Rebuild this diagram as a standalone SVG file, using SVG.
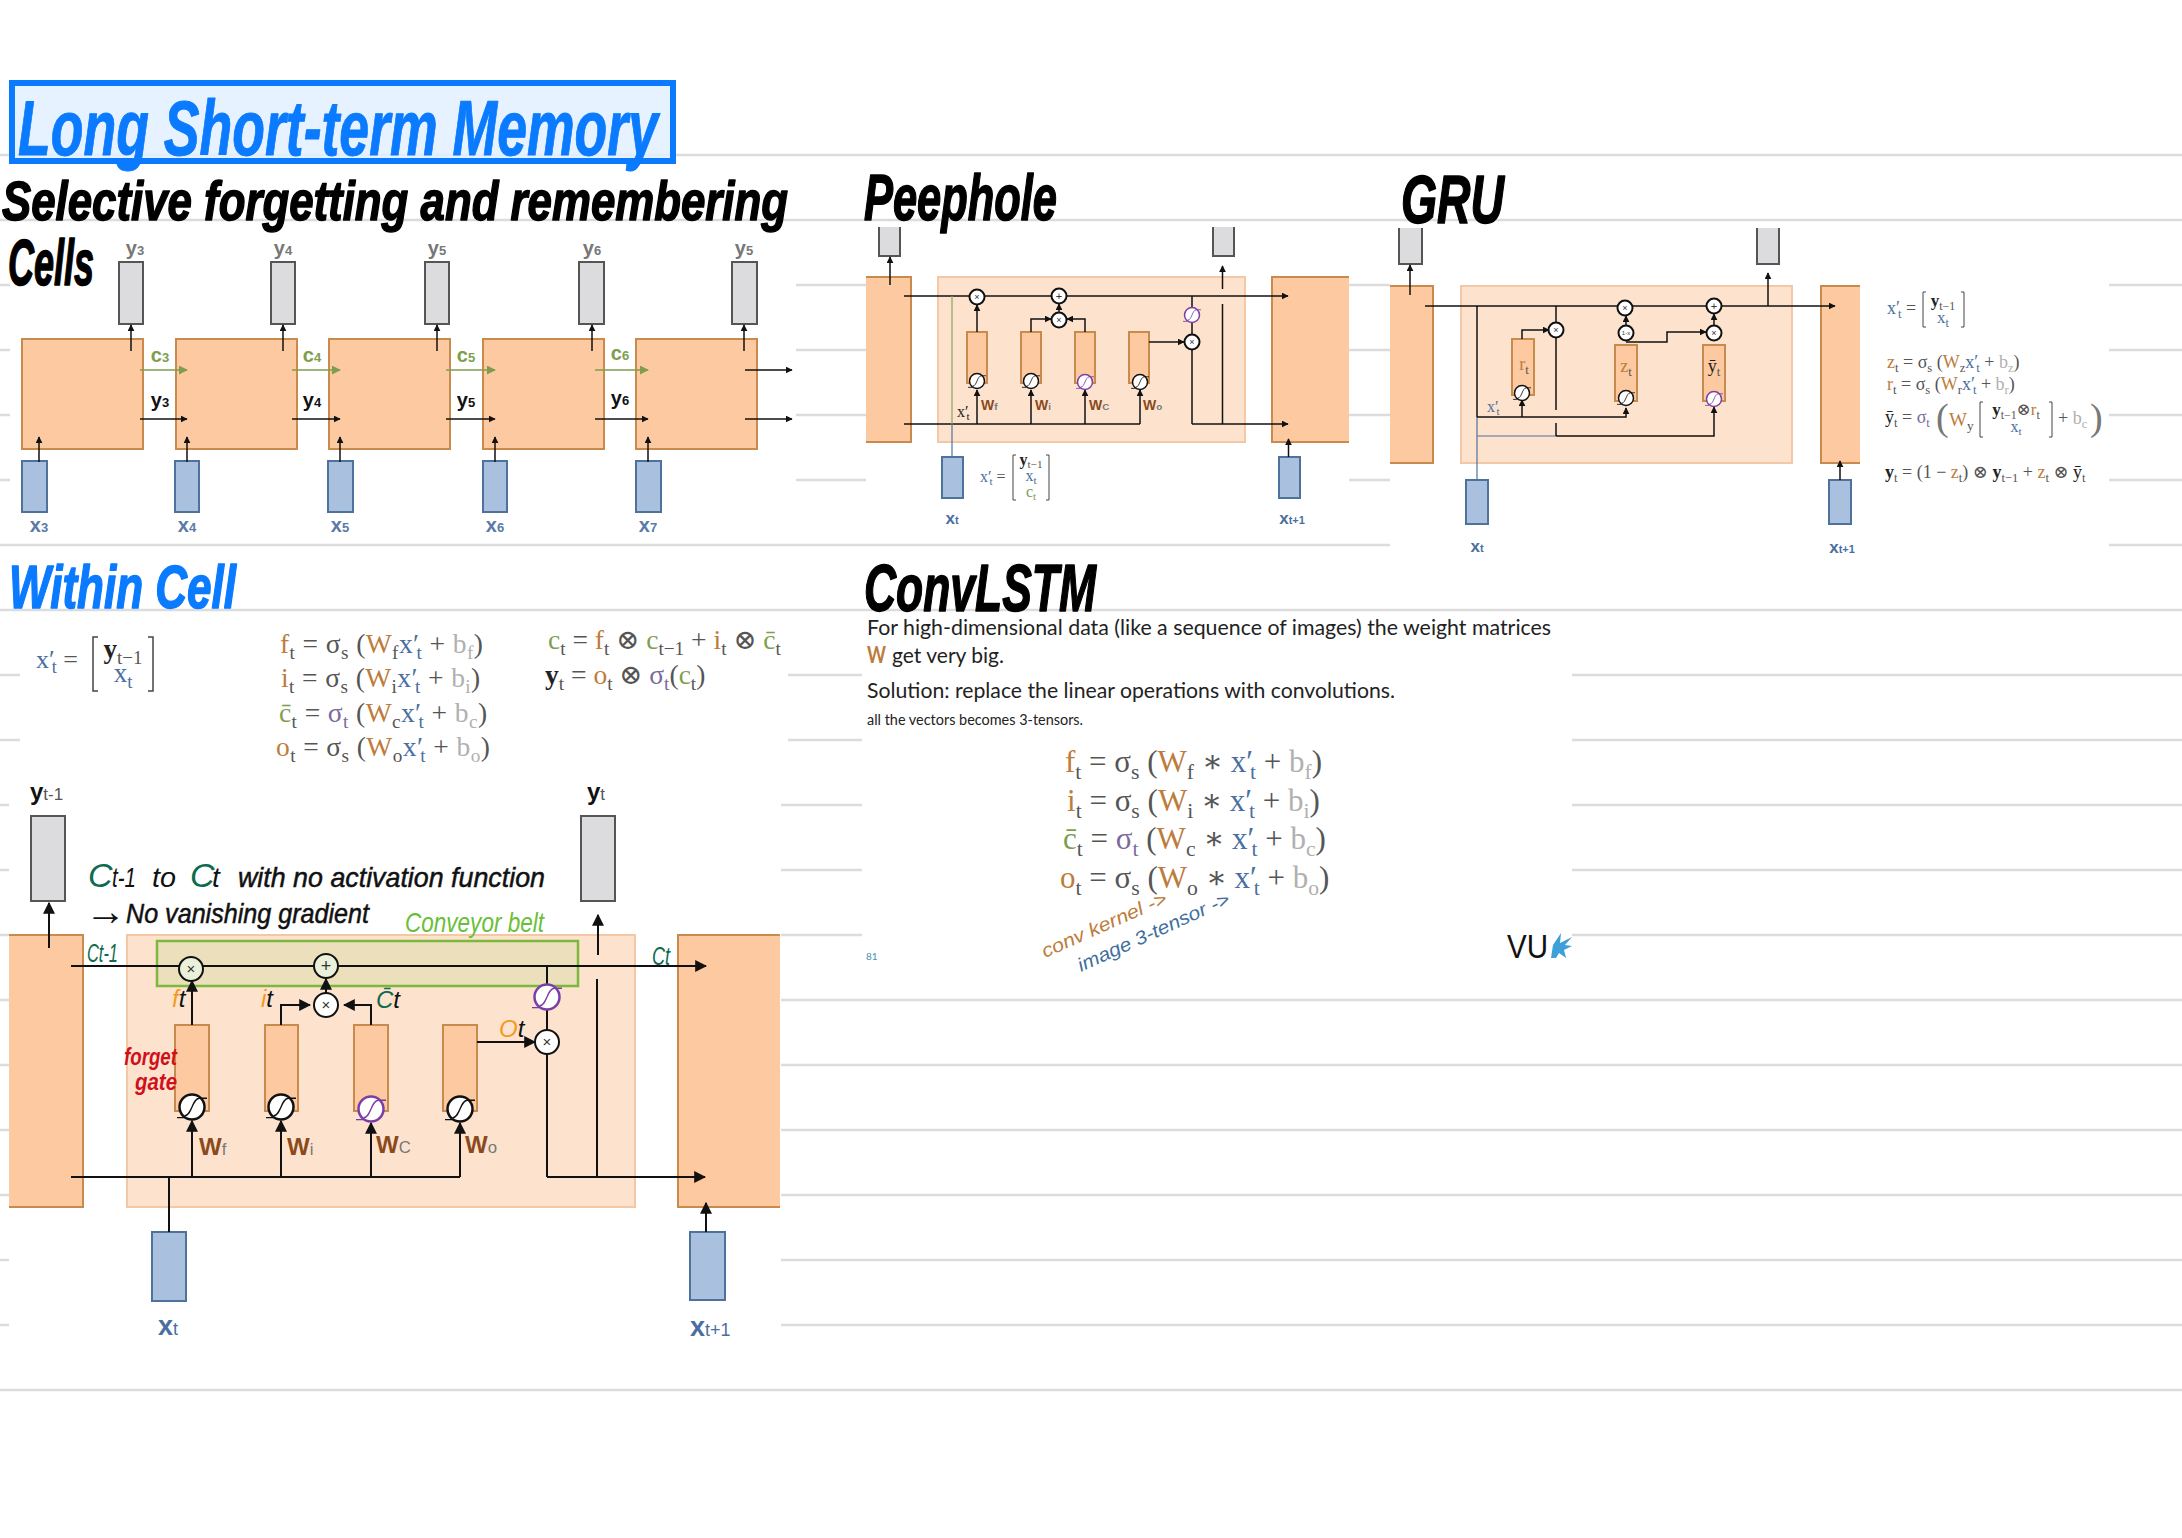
<svg xmlns="http://www.w3.org/2000/svg" width="2182" height="1538" viewBox="0 0 2182 1538">
<defs>
<style>
text{font-family:"Liberation Sans","DejaVu Sans",sans-serif}
.rule{stroke:#dcdcdc;stroke-width:2.5;fill:none}
.cell{fill:#fcc9a0;stroke:#c98a4e;stroke-width:2}
.inner{fill:#fde3cd;stroke:#f3c8a6;stroke-width:2}
.bar{fill:#fcc9a0;stroke:#c98a4e;stroke-width:2}
.out{fill:#dcdcde;stroke:#555;stroke-width:2}
.in{fill:#a9c0de;stroke:#4f729c;stroke-width:2}
.w{fill:none;stroke:#111;stroke-width:2}
.op{fill:#fff;stroke:#111;stroke-width:2}
.opv{fill:#fff;stroke:#7a3fa5;stroke-width:2}
.c{fill:none;stroke:#111;stroke-width:1.5}
.lab{font-weight:bold;text-anchor:middle}
.m{font-family:"Liberation Serif","DejaVu Serif",serif;fill:#555}
.s{font-size:70%}
.o{fill:#bd7c3c}.b{fill:#4a6f9f}.g{fill:#7e9e4e}.p{fill:#7a6a9a}.y{fill:#b0b0b0}.k{fill:#222}
.hb{font-weight:bold;font-style:italic;stroke-linejoin:round}
.hn{font-style:italic}
.sm{fill:#777}
.body{font-family:Lato,"Liberation Sans",sans-serif;fill:#222}
</style>
<marker id="ah" viewBox="0 0 10 10" refX="9" refY="5" markerWidth="7" markerHeight="7" markerUnits="userSpaceOnUse" orient="auto"><path d="M0 0L10 5L0 10z" fill="#111"/></marker>
<marker id="ag" viewBox="0 0 10 10" refX="9" refY="5" markerWidth="9" markerHeight="9" markerUnits="userSpaceOnUse" orient="auto"><path d="M0 0L10 5L0 10z" fill="#7e9e4e"/></marker>
<marker id="al" viewBox="0 0 10 10" refX="9" refY="5" markerWidth="12" markerHeight="12" markerUnits="userSpaceOnUse" orient="auto"><path d="M0 0L10 5L0 10z" fill="#111"/></marker>
<g id="sig"><circle r="10"/><path d="M-6 7C0 7 0-7 6-7M-12 8.500H-6M6-7H12" fill="none" stroke-width="1.100"/></g>
</defs>
<rect width="2182" height="1538" fill="#fff"/>
<g id="page-rules">
<path class="rule" d="M0 155H2182M0 220H2182M0 285H2182M0 350H2182M0 415H2182M0 480H2182M0 545H2182M0 610H2182M0 675H2182M0 740H2182M0 805H2182M0 870H2182M0 935H2182M0 1000H2182M0 1065H2182M0 1130H2182M0 1195H2182M0 1260H2182M0 1325H2182M0 1390H2182"/>
<rect x="10" y="232" width="786" height="306" fill="#fff"/>
<rect x="866" y="227" width="483" height="308" fill="#fff"/>
<rect x="1390" y="228" width="719" height="330" fill="#fff"/>
<rect x="20" y="620" width="768" height="160" fill="#fff"/>
<rect x="9" y="780" width="772" height="590" fill="#fff"/>
<rect x="862" y="620" width="710" height="365" fill="#fff"/>
</g>
<g id="title">
<rect x="12" y="83" width="661" height="78" fill="#e2f0ff" fill-opacity=".85" stroke="#0a7aff" stroke-width="6"/>
<text class="hb" x="18" y="155" font-size="78" fill="#0a7aff" stroke="#0a7aff" stroke-width="1" textLength="640" lengthAdjust="spacingAndGlyphs">Long Short-term Memory</text>
</g>
<g id="headings">
<text class="hb" x="2" y="220" font-size="56" fill="#000" stroke="#000" stroke-width="1.5" textLength="786" lengthAdjust="spacingAndGlyphs">Selective forgetting and remembering</text>
<text class="hb" x="8" y="285" font-size="64" fill="#000" stroke="#000" stroke-width="1.5" textLength="86" lengthAdjust="spacingAndGlyphs">Cells</text>
<text class="hb" x="864" y="220" font-size="64" fill="#000" stroke="#000" stroke-width="1.5" textLength="193" lengthAdjust="spacingAndGlyphs">Peephole</text>
<text class="hb" x="1401" y="223" font-size="68" fill="#000" stroke="#000" stroke-width="1.5" textLength="103" lengthAdjust="spacingAndGlyphs">GRU</text>
<text class="hb" x="9" y="608" font-size="62" fill="#0a7aff" stroke="#0a7aff" stroke-width="1.5" textLength="227" lengthAdjust="spacingAndGlyphs">Within Cell</text>
<text class="hb" x="864" y="611" font-size="66" fill="#000" stroke="#000" stroke-width="1.5" textLength="232" lengthAdjust="spacingAndGlyphs">ConvLSTM</text>
</g>

<g id="chain-nodes">
<g id="ch-cell1"><rect class="cell" x="22" y="339" width="121" height="110"/></g>
<g id="ch-cell2"><rect class="cell" x="176" y="339" width="121" height="110"/></g>
<g id="ch-cell3"><rect class="cell" x="329" y="339" width="121" height="110"/></g>
<g id="ch-cell4"><rect class="cell" x="483" y="339" width="121" height="110"/></g>
<g id="ch-cell5"><rect class="cell" x="636" y="339" width="121" height="110"/></g>
<g id="ch-y3"><rect class="out" x="119" y="262" width="24" height="62"/><text class="lab" x="135" y="255" font-size="20" fill="#777">y<tspan font-size="13">3</tspan></text></g>
<g id="ch-y4"><rect class="out" x="271" y="262" width="24" height="62"/><text class="lab" x="283" y="255" font-size="20" fill="#777">y<tspan font-size="13">4</tspan></text></g>
<g id="ch-y5"><rect class="out" x="425" y="262" width="24" height="62"/><text class="lab" x="437" y="255" font-size="20" fill="#777">y<tspan font-size="13">5</tspan></text></g>
<g id="ch-y6"><rect class="out" x="579" y="262" width="25" height="62"/><text class="lab" x="592" y="255" font-size="20" fill="#777">y<tspan font-size="13">6</tspan></text></g>
<g id="ch-y5b"><rect class="out" x="732" y="262" width="25" height="62"/><text class="lab" x="744" y="255" font-size="20" fill="#777">y<tspan font-size="13">5</tspan></text></g>
<g id="ch-x3"><rect class="in" x="22" y="461" width="25" height="51"/><text class="lab" x="39" y="532" font-size="20" fill="#5b7aa6">x<tspan font-size="13">3</tspan></text></g>
<g id="ch-x4"><rect class="in" x="175" y="461" width="24" height="51"/><text class="lab" x="187" y="532" font-size="20" fill="#5b7aa6">x<tspan font-size="13">4</tspan></text></g>
<g id="ch-x5"><rect class="in" x="328" y="461" width="25" height="51"/><text class="lab" x="340" y="532" font-size="20" fill="#5b7aa6">x<tspan font-size="13">5</tspan></text></g>
<g id="ch-x6"><rect class="in" x="483" y="461" width="24" height="51"/><text class="lab" x="495" y="532" font-size="20" fill="#5b7aa6">x<tspan font-size="13">6</tspan></text></g>
<g id="ch-x7"><rect class="in" x="636" y="461" width="25" height="51"/><text class="lab" x="648" y="532" font-size="20" fill="#5b7aa6">x<tspan font-size="13">7</tspan></text></g>
</g>
<g id="chain-connectors">
<path class="c" marker-end="url(#ah)" d="M131 351V325"/><path class="c" marker-end="url(#ah)" d="M283 351V325"/><path class="c" marker-end="url(#ah)" d="M437 351V325"/><path class="c" marker-end="url(#ah)" d="M592 351V325"/><path class="c" marker-end="url(#ah)" d="M744 351V325"/>
<path class="c" marker-end="url(#ah)" d="M39 462V437"/><path class="c" marker-end="url(#ah)" d="M187 462V437"/><path class="c" marker-end="url(#ah)" d="M340 462V437"/><path class="c" marker-end="url(#ah)" d="M495 462V437"/><path class="c" marker-end="url(#ah)" d="M648 462V437"/>
<path class="c" marker-end="url(#ah)" d="M140 419H187"/><path class="c" marker-end="url(#ah)" d="M292 419H340"/><path class="c" marker-end="url(#ah)" d="M446 419H495"/><path class="c" marker-end="url(#ah)" d="M595 419H648"/><path class="c" marker-end="url(#ah)" d="M745 419H792"/><path class="c" marker-end="url(#ah)" d="M745 370H792"/>
<g stroke="#7e9e4e" stroke-width="1.500" fill="none">
<path marker-end="url(#ag)" d="M140 370H187"/><path marker-end="url(#ag)" d="M292 370H340"/><path marker-end="url(#ag)" d="M446 370H495"/><path marker-end="url(#ag)" d="M595 370H648"/>
</g>
</g>
<g id="chain-labels">
<g font-size="20" fill="#7e9e4e"><text x="160" y="362" class="lab">c<tspan font-size="13">3</tspan></text><text x="312" y="362" class="lab">c<tspan font-size="13">4</tspan></text><text x="466" y="362" class="lab">c<tspan font-size="13">5</tspan></text><text x="620" y="360" class="lab">c<tspan font-size="13">6</tspan></text></g>
<g font-size="20" fill="#111"><text x="160" y="407" class="lab">y<tspan font-size="13">3</tspan></text><text x="312" y="407" class="lab">y<tspan font-size="13">4</tspan></text><text x="466" y="407" class="lab">y<tspan font-size="13">5</tspan></text><text x="620" y="405" class="lab">y<tspan font-size="13">6</tspan></text></g>
</g>

<g id="peephole-nodes">
<g id="ph-prev"><rect x="866" y="278" width="44" height="163" fill="#fcc9a0"/><path class="cell" style="fill:none" d="M866 277H911V442H866"/></g>
<g id="ph-next"><rect x="1273" y="278" width="76" height="163" fill="#fcc9a0"/><path class="cell" style="fill:none" d="M1349 277H1272V442H1349"/></g>
<g id="ph-inner"><rect class="inner" x="938" y="277" width="307" height="165"/></g>
<g id="ph-out1"><path class="out" d="M879 227V256H900V227"/></g>
<g id="ph-out2"><path class="out" d="M1213 227V256H1234V227"/></g>
<g id="ph-f"><rect class="bar" x="967" y="332" width="20" height="51"/></g>
<g id="ph-i"><rect class="bar" x="1021" y="332" width="20" height="51"/></g>
<g id="ph-c"><rect class="bar" x="1075" y="332" width="20" height="51"/></g>
<g id="ph-o"><rect class="bar" x="1129" y="332" width="20" height="51"/></g>
<g id="ph-xt"><rect class="in" x="942" y="457" width="21" height="41"/><text class="lab" x="952" y="524" font-size="17" fill="#4a6f9f">x<tspan font-size="11">t</tspan></text></g>
<g id="ph-xt1"><rect class="in" x="1279" y="457" width="21" height="41"/><text class="lab" x="1292" y="524" font-size="17" fill="#4a6f9f">x<tspan font-size="11">t+1</tspan></text></g>
</g>
<g id="peephole-connectors">
<path class="c" marker-end="url(#ah)" d="M890 285V257"/>
<path class="c" marker-end="url(#ah)" d="M1222.500 289V266"/>
<path class="c" marker-end="url(#ah)" d="M904 296H1288"/>
<path class="c" d="M904 424H1140"/>
<path class="c" marker-end="url(#ah)" d="M1192 424H1288"/>
<path class="c" d="M1192 296V424M1222.500 304V424"/>
<path d="M952 296V424" fill="none" stroke="#8aa35c" stroke-width="1.200"/>
<path d="M952 424V457" fill="none" stroke="#4f729c" stroke-width="1.200"/>
<path class="c" marker-end="url(#ah)" d="M977 424V390"/><path class="c" marker-end="url(#ah)" d="M1031 424V390"/><path class="c" marker-end="url(#ah)" d="M1085 424V390"/><path class="c" marker-end="url(#ah)" d="M1140 424V390"/>
<path class="c" marker-end="url(#ah)" d="M977 332V305"/>
<path class="c" marker-end="url(#ah)" d="M1031 332V319H1051"/>
<path class="c" marker-end="url(#ah)" d="M1085 332V319H1067"/>
<path class="c" marker-end="url(#ah)" d="M1059 312V304"/>
<path class="c" marker-end="url(#ah)" d="M1149 342H1184"/>
<path class="c" marker-end="url(#ah)" d="M1288.500 457V439"/>
</g>
<g id="peephole-ops">
<g id="ph-mul1"><circle class="op" cx="977" cy="297" r="7.500"/><text x="977" y="300" font-size="9" text-anchor="middle" fill="#333">×</text></g>
<g id="ph-add"><circle class="op" cx="1059" cy="296" r="7.500"/><text x="1059" y="300" font-size="11" text-anchor="middle" fill="#333">+</text></g>
<g id="ph-mul2"><circle class="op" cx="1059" cy="320" r="7.500"/><text x="1059" y="323" font-size="9" text-anchor="middle" fill="#333">×</text></g>
<g id="ph-mul3"><circle class="op" cx="1192" cy="342" r="7.500"/><text x="1192" y="345" font-size="9" text-anchor="middle" fill="#333">×</text></g>
<use id="ph-sig1" href="#sig" class="op" transform="translate(977 381) scale(.75)"/>
<use id="ph-sig2" href="#sig" class="op" transform="translate(1031 381) scale(.75)"/>
<use id="ph-sig3" href="#sig" class="opv" transform="translate(1085 382) scale(.75)"/>
<use id="ph-sig4" href="#sig" class="op" transform="translate(1140 382) scale(.75)"/>
<use id="ph-sig5" href="#sig" class="opv" transform="translate(1192 315) scale(.75)"/>
</g>
<g id="peephole-labels">
<text class="m" x="957" y="417" font-size="16"><tspan class="k">x′</tspan><tspan class="s k" dy=".3em" dx="-2">t</tspan></text>
<g font-weight="bold" font-size="14" fill="#8a4a1e"><text x="981" y="410">W<tspan class="s sm">f</tspan></text><text x="1035" y="410">W<tspan class="s sm">i</tspan></text><text x="1089" y="410">W<tspan class="s sm">C</tspan></text><text x="1143" y="410">W<tspan class="s sm">o</tspan></text></g>
<text class="m" x="980" y="482" font-size="16"><tspan class="b">x′</tspan><tspan class="s b" dy=".3em" dx="-2">t</tspan><tspan dy="-.21em"> =</tspan></text>
<path d="M1016 455H1013V500H1016M1046 455H1049V500H1046" fill="none" stroke="#444" stroke-width="1"/>
<text class="m" x="1031" y="465" font-size="16" text-anchor="middle"><tspan class="k" font-weight="bold">y</tspan><tspan class="s" dy=".3em">t−1</tspan></text>
<text class="m" x="1031" y="481" font-size="16" text-anchor="middle"><tspan class="b">x</tspan><tspan class="s b" dy=".3em">t</tspan></text>
<text class="m" x="1031" y="497" font-size="16" text-anchor="middle"><tspan class="g">c</tspan><tspan class="s g" dy=".3em">t</tspan></text>
</g>

<g id="gru-nodes">
<g id="gr-prev"><rect x="1390" y="287" width="42" height="175" fill="#fcc9a0"/><path class="cell" style="fill:none" d="M1390 286H1433V463H1390"/></g>
<g id="gr-next"><rect x="1822" y="287" width="38" height="175" fill="#fcc9a0"/><path class="cell" style="fill:none" d="M1860 286H1821V463H1860"/></g>
<g id="gr-inner"><rect class="inner" x="1461" y="286" width="331" height="177"/></g>
<g id="gr-out1"><path class="out" d="M1399 228V264H1422V228"/></g>
<g id="gr-out2"><path class="out" d="M1757 228V264H1779V228"/></g>
<g id="gr-r"><rect class="bar" x="1512" y="339" width="22" height="56"/><text class="m" x="1524" y="370" font-size="18" text-anchor="middle"><tspan class="o">r</tspan><tspan class="s" dy=".3em">t</tspan></text></g>
<g id="gr-z"><rect class="bar" x="1615" y="345" width="22" height="56"/><text class="m" x="1626" y="372" font-size="18" text-anchor="middle"><tspan class="o">z</tspan><tspan class="s" dy=".3em">t</tspan></text></g>
<g id="gr-y"><rect class="bar" x="1703" y="345" width="22" height="56"/><text class="m" x="1714" y="372" font-size="18" text-anchor="middle"><tspan class="k">ȳ</tspan><tspan class="s" dy=".3em">t</tspan></text></g>
<g id="gr-xt"><rect class="in" x="1466" y="480" width="22" height="44"/><text class="lab" x="1477" y="552" font-size="17" fill="#4a6f9f">x<tspan font-size="11">t</tspan></text></g>
<g id="gr-xt1"><rect class="in" x="1829" y="480" width="22" height="44"/><text class="lab" x="1842" y="553" font-size="17" fill="#4a6f9f">x<tspan font-size="11">t+1</tspan></text></g>
</g>
<g id="gru-connectors">
<path class="c" marker-end="url(#ah)" d="M1410 295V265"/>
<path class="c" marker-end="url(#ah)" d="M1768 306V273"/>
<path class="c" marker-end="url(#ah)" d="M1425 306H1835"/>
<path class="c" d="M1477 306V417"/>
<path d="M1477 417V480M1477 436H1556" fill="none" stroke="#4f729c" stroke-width="1.200"/>
<path class="c" marker-end="url(#ah)" d="M1477 417H1626V408"/>
<path class="c" marker-end="url(#ah)" d="M1522 417V400"/>
<path class="c" marker-end="url(#ah)" d="M1556 436H1714V407"/>
<path class="c" d="M1556 306V410M1556 423V436"/>
<path class="c" marker-end="url(#ah)" d="M1522 339V330H1549"/>
<path class="c" marker-end="url(#ah)" d="M1626 342H1667V332H1706"/>
<path class="c" marker-end="url(#ah)" d="M1626 327V316"/>
<path class="c" marker-end="url(#ah)" d="M1714 326V314"/>
<path class="c" marker-end="url(#ah)" d="M1840 480V461"/>
</g>
<g id="gru-ops">
<g id="gr-mul1"><circle class="op" cx="1556" cy="330" r="7.500"/><text x="1556" y="333" font-size="9" text-anchor="middle" fill="#333">×</text></g>
<g id="gr-mul2"><circle class="op" cx="1625" cy="308" r="7.500"/><text x="1625" y="311" font-size="9" text-anchor="middle" fill="#333">×</text></g>
<g id="gr-add"><circle class="op" cx="1714" cy="306" r="7.500"/><text x="1714" y="310" font-size="11" text-anchor="middle" fill="#333">+</text></g>
<g id="gr-1mz"><circle class="op" cx="1626" cy="333" r="7.500"/><text x="1626" y="335" font-size="6" text-anchor="middle" fill="#333">1-x</text></g>
<g id="gr-mul3"><circle class="op" cx="1714" cy="333" r="7.500"/><text x="1714" y="336" font-size="9" text-anchor="middle" fill="#333">×</text></g>
<use id="gr-sig1" href="#sig" class="op" transform="translate(1522 393) scale(.75)"/>
<use id="gr-sig2" href="#sig" class="op" transform="translate(1626 398) scale(.75)"/>
<use id="gr-sig3" href="#sig" class="opv" transform="translate(1714 399) scale(.75)"/>
</g>
<g id="gru-equations">
<text class="m" x="1487" y="412" font-size="16"><tspan class="b">x′</tspan><tspan class="s b" dy=".3em" dx="-2">t</tspan></text>
<text class="m" x="1887" y="314" font-size="18"><tspan class="b">x′</tspan><tspan class="s b" dy=".3em" dx="-2">t</tspan><tspan dy="-.21em"> =</tspan></text>
<path d="M1926 292H1923V327H1926M1961 292H1964V327H1961" fill="none" stroke="#444" stroke-width="1"/>
<text class="m" x="1943" y="306" font-size="17" text-anchor="middle"><tspan class="k" font-weight="bold">y</tspan><tspan class="s" dy=".3em">t−1</tspan></text>
<text class="m" x="1943" y="323" font-size="17" text-anchor="middle"><tspan class="b">x</tspan><tspan class="s b" dy=".3em">t</tspan></text>
<text class="m" x="1887" y="368" font-size="18"><tspan class="o">z</tspan><tspan class="s" dy=".3em">t</tspan><tspan dy="-.21em"> = σ</tspan><tspan class="s" dy=".3em">s</tspan><tspan dy="-.21em"> (</tspan><tspan class="o">W</tspan><tspan class="s" dy=".3em">z</tspan><tspan class="b" dy="-.21em">x′</tspan><tspan class="s b" dy=".3em" dx="-2">t</tspan><tspan dy="-.21em"> + </tspan><tspan class="y">b</tspan><tspan class="s y" dy=".3em">z</tspan><tspan dy="-.21em">)</tspan></text>
<text class="m" x="1887" y="390" font-size="18"><tspan class="o">r</tspan><tspan class="s" dy=".3em">t</tspan><tspan dy="-.21em"> = σ</tspan><tspan class="s" dy=".3em">s</tspan><tspan dy="-.21em"> (</tspan><tspan class="o">W</tspan><tspan class="s" dy=".3em">r</tspan><tspan class="b" dy="-.21em">x′</tspan><tspan class="s b" dy=".3em" dx="-2">t</tspan><tspan dy="-.21em"> + </tspan><tspan class="y">b</tspan><tspan class="s y" dy=".3em">r</tspan><tspan dy="-.21em">)</tspan></text>
<text class="m" x="1885" y="423" font-size="18"><tspan class="k">ȳ</tspan><tspan class="s" dy=".3em">t</tspan><tspan dy="-.21em"> = </tspan><tspan class="p">σ</tspan><tspan class="s p" dy=".3em">t</tspan></text>
<text class="m" x="1936" y="430" font-size="38" style="fill:#777">(</text>
<text class="m" x="1949" y="426" font-size="19"><tspan class="o">W</tspan><tspan class="s" dy=".3em">y</tspan></text>
<path d="M1983 402H1980V437H1983M2049 402H2052V437H2049" fill="none" stroke="#444" stroke-width="1"/>
<text class="m" x="2016" y="415" font-size="17" text-anchor="middle"><tspan class="k" font-weight="bold">y</tspan><tspan class="s" dy=".3em">t−1</tspan><tspan dy="-.21em">⊗</tspan><tspan class="o">r</tspan><tspan class="s" dy=".3em">t</tspan></text>
<text class="m" x="2016" y="432" font-size="16" text-anchor="middle"><tspan class="b">x</tspan><tspan class="s b" dy=".3em">t</tspan></text>
<text class="m" x="2058" y="424" font-size="18">+ <tspan class="y">b</tspan><tspan class="s y" dy=".3em">c</tspan></text>
<text class="m" x="2090" y="430" font-size="38" style="fill:#777">)</text>
<text class="m" x="1885" y="478" font-size="18"><tspan class="k" font-weight="bold">y</tspan><tspan class="s" dy=".3em">t</tspan><tspan dy="-.21em"> = (1 − </tspan><tspan class="o">z</tspan><tspan class="s" dy=".3em">t</tspan><tspan dy="-.21em">) ⊗ </tspan><tspan class="k" font-weight="bold">y</tspan><tspan class="s" dy=".3em">t−1</tspan><tspan dy="-.21em"> + </tspan><tspan class="o">z</tspan><tspan class="s" dy=".3em">t</tspan><tspan dy="-.21em"> ⊗ </tspan><tspan class="k">ȳ</tspan><tspan class="s" dy=".3em">t</tspan></text>
</g>

<g id="within-equations">
<text class="m" x="36" y="668" font-size="26"><tspan class="b">x′</tspan><tspan class="s b" dy=".3em" dx="-3">t</tspan><tspan dy="-.21em"> =</tspan></text>
<path d="M98 637H93V691H98M148 637H153V691H148" fill="none" stroke="#444" stroke-width="1.500"/>
<text class="m" x="123" y="658" font-size="27" text-anchor="middle"><tspan class="k" font-weight="bold">y</tspan><tspan class="s" dy=".3em">t−1</tspan></text>
<text class="m" x="123" y="682" font-size="27" text-anchor="middle"><tspan class="b">x</tspan><tspan class="s b" dy=".3em">t</tspan></text>
<text class="m" x="280" y="653" font-size="27.500" letter-spacing=".4"><tspan class="o">f</tspan><tspan class="s" dy=".3em">t</tspan><tspan dy="-.21em"> = σ</tspan><tspan class="s" dy=".3em">s</tspan><tspan dy="-.21em"> (</tspan><tspan class="o">W</tspan><tspan class="s" dy=".3em">f</tspan><tspan class="b" dy="-.21em">x′</tspan><tspan class="s b" dy=".3em" dx="-3">t</tspan><tspan dy="-.21em"> + </tspan><tspan class="y">b</tspan><tspan class="s y" dy=".3em">f</tspan><tspan dy="-.21em">)</tspan></text>
<text class="m" x="281" y="687" font-size="27.500" letter-spacing=".4"><tspan class="o">i</tspan><tspan class="s" dy=".3em">t</tspan><tspan dy="-.21em"> = σ</tspan><tspan class="s" dy=".3em">s</tspan><tspan dy="-.21em"> (</tspan><tspan class="o">W</tspan><tspan class="s" dy=".3em">i</tspan><tspan class="b" dy="-.21em">x′</tspan><tspan class="s b" dy=".3em" dx="-3">t</tspan><tspan dy="-.21em"> + </tspan><tspan class="y">b</tspan><tspan class="s y" dy=".3em">i</tspan><tspan dy="-.21em">)</tspan></text>
<text class="m" x="279" y="722" font-size="27.500" letter-spacing=".4"><tspan class="g">c̄</tspan><tspan class="s" dy=".3em">t</tspan><tspan dy="-.21em"> = </tspan><tspan class="p">σ</tspan><tspan class="s p" dy=".3em">t</tspan><tspan dy="-.21em"> (</tspan><tspan class="o">W</tspan><tspan class="s" dy=".3em">c</tspan><tspan class="b" dy="-.21em">x′</tspan><tspan class="s b" dy=".3em" dx="-3">t</tspan><tspan dy="-.21em"> + </tspan><tspan class="y">b</tspan><tspan class="s y" dy=".3em">c</tspan><tspan dy="-.21em">)</tspan></text>
<text class="m" x="276" y="756" font-size="27.500" letter-spacing=".4"><tspan class="o">o</tspan><tspan class="s" dy=".3em">t</tspan><tspan dy="-.21em"> = σ</tspan><tspan class="s" dy=".3em">s</tspan><tspan dy="-.21em"> (</tspan><tspan class="o">W</tspan><tspan class="s" dy=".3em">o</tspan><tspan class="b" dy="-.21em">x′</tspan><tspan class="s b" dy=".3em" dx="-3">t</tspan><tspan dy="-.21em"> + </tspan><tspan class="y">b</tspan><tspan class="s y" dy=".3em">o</tspan><tspan dy="-.21em">)</tspan></text>
<text class="m" x="548" y="649" font-size="27.500"><tspan class="g">c</tspan><tspan class="s" dy=".3em">t</tspan><tspan dy="-.21em"> = </tspan><tspan class="o">f</tspan><tspan class="s" dy=".3em">t</tspan><tspan dy="-.21em"> ⊗ </tspan><tspan class="g">c</tspan><tspan class="s" dy=".3em">t−1</tspan><tspan dy="-.21em"> + </tspan><tspan class="o">i</tspan><tspan class="s" dy=".3em">t</tspan><tspan dy="-.21em"> ⊗ </tspan><tspan class="g">c̄</tspan><tspan class="s" dy=".3em">t</tspan></text>
<text class="m" x="545" y="684" font-size="27.500"><tspan class="k" font-weight="bold">y</tspan><tspan class="s" dy=".3em">t</tspan><tspan dy="-.21em"> = </tspan><tspan class="o">o</tspan><tspan class="s" dy=".3em">t</tspan><tspan dy="-.21em"> ⊗ </tspan><tspan class="p">σ</tspan><tspan class="s p" dy=".3em">t</tspan><tspan dy="-.21em">(</tspan><tspan class="g">c</tspan><tspan class="s" dy=".3em">t</tspan><tspan dy="-.21em">)</tspan></text>
</g>

<g id="cell-nodes">
<g id="lc-prev"><rect x="9" y="936" width="73" height="270" fill="#fcc9a0"/><path class="cell" style="fill:none" d="M9 935H83V1207H9"/></g>
<g id="lc-next"><rect x="679" y="936" width="101" height="270" fill="#fcc9a0"/><path class="cell" style="fill:none" d="M780 935H678V1207H780"/></g>
<g id="lc-inner"><rect class="inner" x="127" y="935" width="508" height="272"/></g>
<g id="lc-belt"><rect x="157" y="941" width="421" height="45" fill="#ebe0bb" stroke="#7cb83e" stroke-width="2.500"/></g>
<g id="lc-out1"><rect class="out" x="31" y="816" width="34" height="85" stroke-width="2.500"/><text x="30" y="800" font-size="24" font-weight="bold" fill="#111">y<tspan font-size="17" font-weight="normal" fill="#555">t-1</tspan></text></g>
<g id="lc-out2"><rect class="out" x="581" y="816" width="34" height="85" stroke-width="2.500"/><text x="587" y="800" font-size="24" font-weight="bold" fill="#111">y<tspan font-size="17" font-weight="normal" fill="#555">t</tspan></text></g>
<g id="lc-f"><rect class="bar" x="175" y="1025" width="34" height="86" stroke-width="2.500"/></g>
<g id="lc-i"><rect class="bar" x="265" y="1025" width="33" height="86" stroke-width="2.500"/></g>
<g id="lc-c"><rect class="bar" x="354" y="1025" width="34" height="86" stroke-width="2.500"/></g>
<g id="lc-o"><rect class="bar" x="443" y="1025" width="34" height="86" stroke-width="2.500"/></g>
<g id="lc-xt"><rect class="in" x="152" y="1232" width="34" height="69" stroke-width="2.500"/><text x="158" y="1335" font-size="27" font-weight="bold" fill="#4a6f9f">x<tspan font-size="18" font-weight="normal">t</tspan></text></g>
<g id="lc-xt1"><rect class="in" x="690" y="1232" width="35" height="68" stroke-width="2.500"/><text x="690" y="1336" font-size="27" font-weight="bold" fill="#4a6f9f">x<tspan font-size="18" font-weight="normal">t+1</tspan></text></g>
</g>
<g id="cell-connectors">
<path class="w" marker-end="url(#al)" d="M49 948V903"/>
<path class="w" marker-end="url(#al)" d="M598 955V915"/>
<path class="w" marker-end="url(#al)" d="M71 966H706"/>
<path class="w" d="M71 1177H460"/>
<path class="w" marker-end="url(#al)" d="M547 1177H705"/>
<path class="w" d="M547 966V1177M597 979V1177M169 1177V1232"/>
<path class="w" marker-end="url(#al)" d="M192 1177V1121"/><path class="w" marker-end="url(#al)" d="M281 1177V1121"/><path class="w" marker-end="url(#al)" d="M371 1177V1123"/><path class="w" marker-end="url(#al)" d="M460 1177V1123"/>
<path class="w" marker-end="url(#al)" d="M192 1025V981"/>
<path class="w" marker-end="url(#al)" d="M281 1025V1005H310"/>
<path class="w" marker-end="url(#al)" d="M371 1025V1005H344"/>
<path class="w" marker-end="url(#al)" d="M326 993V979"/>
<path class="w" marker-end="url(#al)" d="M477 1042H535"/>
<path class="w" marker-end="url(#al)" d="M706 1232V1203"/>
</g>
<g id="cell-ops">
<g id="lc-mul1"><circle class="op" cx="191" cy="969" r="12" style="fill:#eaf0da"/><text x="191" y="974" font-size="15" text-anchor="middle" fill="#333">×</text></g>
<g id="lc-add"><circle class="op" cx="326" cy="966" r="12" style="fill:#eaf0da"/><text x="326" y="972" font-size="18" text-anchor="middle" fill="#333">+</text></g>
<g id="lc-mul2"><circle class="op" cx="326" cy="1005" r="12"/><text x="326" y="1010" font-size="15" text-anchor="middle" fill="#333">×</text></g>
<g id="lc-mul3"><circle class="op" cx="547" cy="1042" r="12"/><text x="547" y="1047" font-size="15" text-anchor="middle" fill="#333">×</text></g>
<use id="lc-sig1" href="#sig" class="op" transform="translate(192 1107) scale(1.250)"/>
<use id="lc-sig2" href="#sig" class="op" transform="translate(281 1107) scale(1.250)"/>
<use id="lc-sig3" href="#sig" class="opv" transform="translate(371 1109) scale(1.250)"/>
<use id="lc-sig4" href="#sig" class="op" transform="translate(460 1109) scale(1.250)"/>
<use id="lc-sig5" href="#sig" class="opv" transform="translate(547 997) scale(1.250)"/>
</g>
<g id="cell-labels">
<g font-weight="bold" font-size="24" fill="#8a4a1e"><text x="199" y="1155">W<tspan class="s sm" font-weight="normal">f</tspan></text><text x="287" y="1155">W<tspan class="s sm" font-weight="normal">i</tspan></text><text x="376" y="1153">W<tspan class="s sm" font-weight="normal">C</tspan></text><text x="465" y="1153">W<tspan class="s sm" font-weight="normal">o</tspan></text></g>
<text class="hn" x="88" y="887" font-size="34" fill="#0f6b50">C</text><text class="hn" x="112" y="887" font-size="28" fill="#111" textLength="24" lengthAdjust="spacingAndGlyphs">t-1</text>
<text class="hn" x="152" y="887" font-size="28" fill="#111" textLength="24" lengthAdjust="spacingAndGlyphs">to</text>
<text class="hn" x="190" y="887" font-size="34" fill="#0f6b50">C</text><text class="hn" x="212" y="887" font-size="28" fill="#111">t</text>
<text class="hn" x="238" y="887" font-size="28" fill="#111" stroke="#111" stroke-width=".5" textLength="307" lengthAdjust="spacingAndGlyphs">with no activation function</text>
<text x="85" y="925" font-size="40" fill="#111" textLength="41" lengthAdjust="spacingAndGlyphs">→</text>
<text class="hn" x="126" y="923" font-size="28" fill="#111" stroke="#111" stroke-width=".5" textLength="243" lengthAdjust="spacingAndGlyphs">No vanishing gradient</text>
<text class="hn" x="405" y="932" font-size="28" fill="#6abf3a" textLength="139" lengthAdjust="spacingAndGlyphs">Conveyor belt</text>
<text class="hn" x="87" y="962" font-size="26" fill="#0f6b50" textLength="31" lengthAdjust="spacingAndGlyphs">Ct-1</text>
<text class="hn" x="652" y="965" font-size="26" fill="#0f6b50" textLength="18" lengthAdjust="spacingAndGlyphs">Ct</text>
<text class="hn" x="172" y="1007" font-size="24" fill="#f39a1e">f<tspan fill="#111">t</tspan></text>
<text class="hn" x="261" y="1007" font-size="24" fill="#f39a1e">i<tspan fill="#111">t</tspan></text>
<text class="hn" x="376" y="1008" font-size="24" fill="#0f6b50">C̄<tspan fill="#111">t</tspan></text>
<text class="hn" x="499" y="1037" font-size="24" fill="#f39a1e">O<tspan fill="#111">t</tspan></text>
<text class="hn" x="124" y="1065" font-size="24" font-weight="bold" fill="#d0101c" textLength="53" lengthAdjust="spacingAndGlyphs">forget</text>
<text class="hn" x="135" y="1090" font-size="24" font-weight="bold" fill="#d0101c" textLength="42" lengthAdjust="spacingAndGlyphs">gate</text>
</g>

<g id="convlstm">
<text class="body" x="867" y="635" font-size="22" textLength="684" lengthAdjust="spacingAndGlyphs">For high-dimensional data (like a sequence of images) the weight matrices</text>
<text class="body" x="867" y="663" font-size="22" style="fill:#bd7c3c" font-weight="bold" textLength="19" lengthAdjust="spacingAndGlyphs">W</text>
<text class="body" x="892" y="663" font-size="22" textLength="112" lengthAdjust="spacingAndGlyphs">get very big.</text>
<text class="body" x="867" y="698" font-size="22" textLength="528" lengthAdjust="spacingAndGlyphs">Solution: replace the linear operations with convolutions.</text>
<text class="body" x="867" y="725" font-size="14.500" textLength="216" lengthAdjust="spacingAndGlyphs">all the vectors becomes 3-tensors.</text>
<text class="m" x="1065" y="772" font-size="31"><tspan class="o">f</tspan><tspan class="s" dy=".3em">t</tspan><tspan dy="-.21em"> = σ</tspan><tspan class="s" dy=".3em">s</tspan><tspan dy="-.21em"> (</tspan><tspan class="o">W</tspan><tspan class="s" dy=".3em">f</tspan><tspan dy="-.21em"> ∗ </tspan><tspan class="b">x′</tspan><tspan class="s b" dy=".3em" dx="-3">t</tspan><tspan dy="-.21em"> + </tspan><tspan class="y">b</tspan><tspan class="s y" dy=".3em">f</tspan><tspan dy="-.21em">)</tspan></text>
<text class="m" x="1067" y="811" font-size="31"><tspan class="o">i</tspan><tspan class="s" dy=".3em">t</tspan><tspan dy="-.21em"> = σ</tspan><tspan class="s" dy=".3em">s</tspan><tspan dy="-.21em"> (</tspan><tspan class="o">W</tspan><tspan class="s" dy=".3em">i</tspan><tspan dy="-.21em"> ∗ </tspan><tspan class="b">x′</tspan><tspan class="s b" dy=".3em" dx="-3">t</tspan><tspan dy="-.21em"> + </tspan><tspan class="y">b</tspan><tspan class="s y" dy=".3em">i</tspan><tspan dy="-.21em">)</tspan></text>
<text class="m" x="1063" y="849" font-size="31"><tspan class="g">c̄</tspan><tspan class="s" dy=".3em">t</tspan><tspan dy="-.21em"> = </tspan><tspan class="p">σ</tspan><tspan class="s p" dy=".3em">t</tspan><tspan dy="-.21em"> (</tspan><tspan class="o">W</tspan><tspan class="s" dy=".3em">c</tspan><tspan dy="-.21em"> ∗ </tspan><tspan class="b">x′</tspan><tspan class="s b" dy=".3em" dx="-3">t</tspan><tspan dy="-.21em"> + </tspan><tspan class="y">b</tspan><tspan class="s y" dy=".3em">c</tspan><tspan dy="-.21em">)</tspan></text>
<text class="m" x="1060" y="888" font-size="31"><tspan class="o">o</tspan><tspan class="s" dy=".3em">t</tspan><tspan dy="-.21em"> = σ</tspan><tspan class="s" dy=".3em">s</tspan><tspan dy="-.21em"> (</tspan><tspan class="o">W</tspan><tspan class="s" dy=".3em">o</tspan><tspan dy="-.21em"> ∗ </tspan><tspan class="b">x′</tspan><tspan class="s b" dy=".3em" dx="-3">t</tspan><tspan dy="-.21em"> + </tspan><tspan class="y">b</tspan><tspan class="s y" dy=".3em">o</tspan><tspan dy="-.21em">)</tspan></text>
<text class="hn" transform="translate(1045 958) rotate(-24)" font-size="19" fill="#bd7c3c" textLength="135" lengthAdjust="spacingAndGlyphs">conv kernel -&gt;</text>
<text class="hn" transform="translate(1081 972) rotate(-24.500)" font-size="19" fill="#3f6f9e" textLength="165" lengthAdjust="spacingAndGlyphs">image 3-tensor -&gt;</text>
<text class="body" x="866" y="960" font-size="10" style="fill:#4a90b8">81</text>
<text x="1507" y="958" font-size="33" fill="#111" textLength="41" lengthAdjust="spacingAndGlyphs">VU</text>
<path id="griffin" d="M1551 958L1553 945L1561 933L1560 943L1572 937L1565 945L1572 946L1564 950L1566 958L1559 953L1556 958Z" fill="#3f9fd8"/>
</g>
</svg>
